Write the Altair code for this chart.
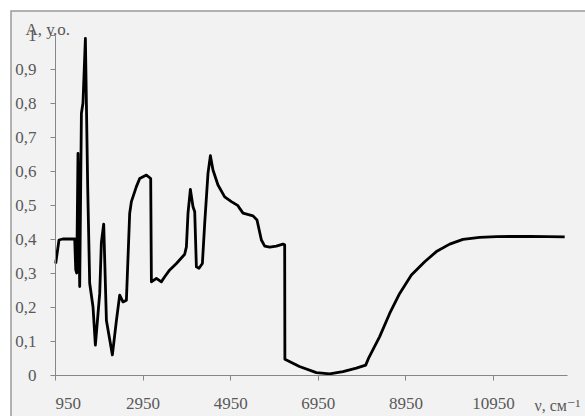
import altair as alt
import pandas as pd

# Absorption spectrum: wavenumber (cm^-1) and absorbance (arb. units)
wavenumber = [
    966, 1041, 1126, 1400, 1423, 1446, 1475, 1514, 1553, 1589, 1644, 1697,
    1742, 1818, 1872, 1971, 2009, 2062, 2124, 2260, 2352, 2427, 2502, 2580,
    2655, 2694, 2808, 2884, 3037, 3135, 3151, 3265, 3379, 3455, 3569, 3722,
    3911, 3950, 3987, 4041, 4101, 4140, 4178, 4238, 4315, 4368, 4443, 4498,
    4557, 4671, 4824, 4977, 5128, 5167, 5242, 5471, 5562, 5662, 5738, 5852,
    6005, 6156, 6194, 6199, 6531, 6918, 7221, 7525, 7831, 8044, 8119, 8363,
    8591, 8820, 9087, 9391, 9658, 9962, 10265, 10646, 11028, 11788, 12587,
]
absorbance = [
    0.328, 0.397, 0.400, 0.400, 0.310, 0.300, 0.652, 0.260, 0.770, 0.800, 0.990, 0.550,
    0.270, 0.200, 0.088, 0.240, 0.390, 0.444, 0.160, 0.059, 0.160, 0.235, 0.215, 0.220,
    0.475, 0.510, 0.554, 0.578, 0.588, 0.578, 0.274, 0.284, 0.274, 0.289, 0.309, 0.328,
    0.355, 0.377, 0.476, 0.546, 0.495, 0.480, 0.318, 0.314, 0.328, 0.446, 0.593, 0.645,
    0.603, 0.559, 0.524, 0.510, 0.498, 0.490, 0.476, 0.468, 0.456, 0.397, 0.379, 0.376,
    0.379, 0.385, 0.383, 0.046, 0.025, 0.007, 0.003, 0.010, 0.020, 0.029, 0.052, 0.113,
    0.181, 0.240, 0.294, 0.333, 0.363, 0.385, 0.399, 0.405, 0.407, 0.408, 0.406,
]

x_ticks = [950, 2950, 4950, 6950, 8950, 10950]
y_ticks = [0, 0.1, 0.2, 0.3, 0.4, 0.5, 0.6, 0.7, 0.8, 0.9, 1.0]

df = pd.DataFrame({"nu": wavenumber, "A": absorbance})

FONT = "'Liberation Serif', 'Times New Roman', 'DejaVu Serif', serif"
TEXT = "#595959"
AXIS = "#868686"

# light-grey chart frame
frame = alt.Chart(pd.DataFrame({"k": [0]})).mark_rect(
    fill="#f2f2f2", stroke="#9a9a9a", strokeWidth=1.5
).encode(
    x=alt.value(-44), x2=alt.value(620), y=alt.value(-24), y2=alt.value(460)
)

line = alt.Chart(df).mark_line(
    color="black", strokeWidth=2.8, strokeJoin="round", clip=False
).encode(
    x=alt.X(
        "nu:Q",
        scale=alt.Scale(domain=[950, 12640], nice=False, zero=False),
        axis=alt.Axis(
            values=x_ticks, format="d", grid=False, title="ν, см⁻¹",
            titleX=479, titleY=35, titleAngle=0, titleAlign="left",
            titleFontSize=16, titleBaseline="alphabetic", labelPadding=15,
            zindex=1,
        ),
    ),
    y=alt.Y(
        "A:Q",
        scale=alt.Scale(domain=[0, 1], nice=False),
        axis=alt.Axis(
            values=y_ticks, grid=False, title="A, у.о.",
            labelExpr="replace(format(datum.value, '.1~f'), '.', ',')",
            titleX=-30, titleY=-1, titleAngle=0, titleAlign="left",
            titleBaseline="alphabetic", labelPadding=14, zindex=1,
        ),
    ),
)

chart = alt.layer(frame, line).properties(
    width=512,
    height=340,
    autosize=alt.AutoSizeParams(type="none"),
    padding={"left": 55, "top": 35, "right": 18, "bottom": 41},
    background="white",
).configure_view(
    strokeWidth=0
).configure_axis(
    labelFont=FONT, labelFontSize=17, labelColor=TEXT,
    titleFont=FONT, titleFontSize=17, titleColor=TEXT, titleFontWeight="normal",
    domainColor=AXIS, tickColor=AXIS, tickSize=5, domainWidth=1, tickWidth=1,
)

chart.save("out.html", embed_options={"renderer": "svg", "actions": False})
